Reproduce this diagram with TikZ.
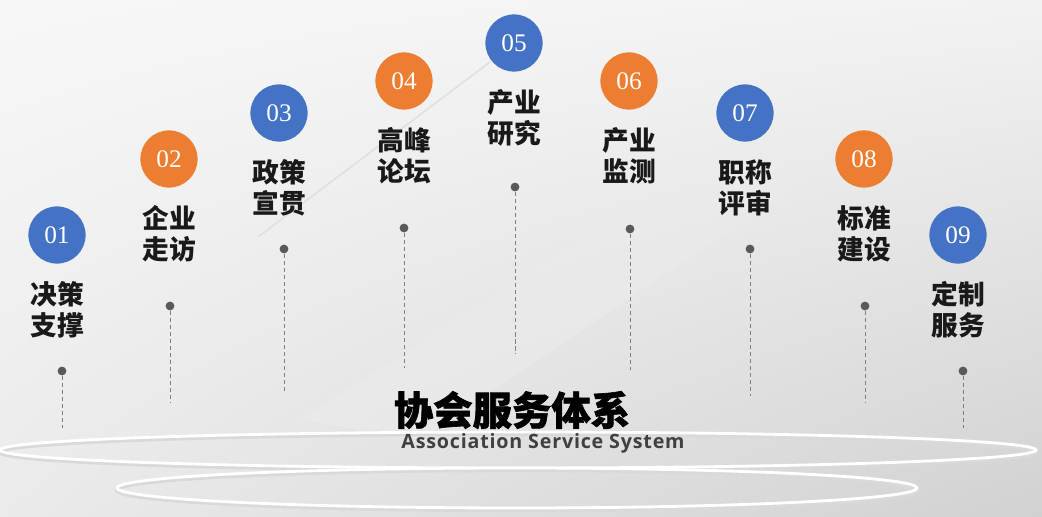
\documentclass[tikz,border=0pt]{standalone}
\usepackage{fontspec}
\setmainfont{Liberation Serif}
\newfontfamily\cjk{Noto Sans CJK SC}
\newfontfamily\cjkheavy[BoldFeatures={FakeBold=1.6}]{Noto Sans CJK SC}
\newfontfamily\latinsans[LetterSpace=4]{Open Sans}
\usetikzlibrary{arrows,positioning,shapes,shadings}

\definecolor{svcblue}{HTML}{4472C4}
\definecolor{svcorange}{HTML}{ED7D31}
\definecolor{dotgray}{HTML}{595959}
\definecolor{stemgray}{HTML}{7F7F7F}

\begin{document}
\begin{tikzpicture}[x=0.025cm,y=-0.025cm,thin]
\tikzstyle{num}=[circle,minimum size=1.43cm,inner sep=0,text=white,font=\fontsize{18}{18}\selectfont]
\tikzstyle{bluenum}=[num,fill=svcblue]
\tikzstyle{orangenum}=[num,fill=svcorange]
\tikzstyle{svc}=[align=center,text=black!90,font=\cjk\bfseries\fontsize{19}{22}\selectfont]
\tikzstyle{pin}=[circle,fill=dotgray,inner sep=0,minimum size=0.22cm]
\tikzstyle{stem}=[draw=stemgray,line width=0.6pt,dash pattern=on 3pt off 2pt]
\tikzstyle{ring}=[draw=white,line width=2pt]

% background
\useasboundingbox (0,0) rectangle (1042,517);
\shade[upper left=white!97!black,upper right=white!95!black,lower left=white!92!black,lower right=white!82!black]
  (0,0) rectangle (1042,517);
\fill[black!8,opacity=0.6] (300,420) -- (727,147) -- (798,133) -- (808,178) -- (420,440) -- cycle;
\draw[black!12,line width=1.2pt] (258,237) -- (490,62);
\draw[black!15,line width=3pt] (518,452) ellipse (518 and 18);
\draw[ring] (518,450) ellipse (518 and 18);
\draw[black!15,line width=3pt] (517,490) ellipse (400 and 20);
\draw[ring] (517,488) ellipse (400 and 20);

% numbered circles
\node[bluenum]   (c1) at (57,235)  {01};
\node[orangenum] (c2) at (169,159) {02};
\node[bluenum]   (c3) at (279,113) {03};
\node[orangenum] (c4) at (404,81)  {04};
\node[bluenum]   (c5) at (514,43)  {05};
\node[orangenum] (c6) at (629,81)  {06};
\node[bluenum]   (c7) at (745,113) {07};
\node[orangenum] (c8) at (864,159) {08};
\node[bluenum]   (c9) at (958,235) {09};

% texts
\node[svc] (t1) [below of=c1,node distance=1.875cm] {决策\\支撑};
\node[svc] (t2) [below of=c2,node distance=1.875cm] {企业\\走访};
\node[svc] (t3) [below of=c3,node distance=1.875cm] {政策\\宣贯};
\node[svc] (t4) [below of=c4,node distance=1.875cm] {高峰\\论坛};
\node[svc] (t5) [below of=c5,node distance=1.875cm] {产业\\研究};
\node[svc] (t6) [below of=c6,node distance=1.875cm] {产业\\监测};
\node[svc] (t7) [below of=c7,node distance=1.875cm] {职称\\评审};
\node[svc] (t8) [below of=c8,node distance=1.875cm] {标准\\建设};
\node[svc] (t9) [below of=c9,node distance=1.875cm] {定制\\服务};

% dots and stems
\node[pin] (p1) at (62,371)  {};
\node[pin] (p2) at (170,306) {};
\node[pin] (p3) at (284,249) {};
\node[pin] (p4) at (404,228) {};
\node[pin] (p5) at (515,187) {};
\node[pin] (p6) at (630,229) {};
\node[pin] (p7) at (750,249) {};
\node[pin] (p8) at (865,306) {};
\node[pin] (p9) at (963,371) {};
\coordinate (e1) at (62,428);
\coordinate (e2) at (170,403);
\coordinate (e3) at (284,394);
\coordinate (e4) at (404,368);
\coordinate (e5) at (515,354);
\coordinate (e6) at (630,370);
\coordinate (e7) at (750,396);
\coordinate (e8) at (865,403);
\coordinate (e9) at (963,428);

\path[stem]
(p1) -- (e1)
(p2) -- (e2)
(p3) -- (e3)
(p4) -- (e4)
(p5) -- (e5)
(p6) -- (e6)
(p7) -- (e7)
(p8) -- (e8)
(p9) -- (e9)
;

% title
\node[font=\cjkheavy\bfseries\fontsize{28}{28}\selectfont] (title) at (512,410) {协会服务体系};
\node[text=black!75,font=\latinsans\bfseries\fontsize{14}{14}\selectfont] (subtitle) at (543,443) {Association Service System};
\end{tikzpicture}
\end{document}
